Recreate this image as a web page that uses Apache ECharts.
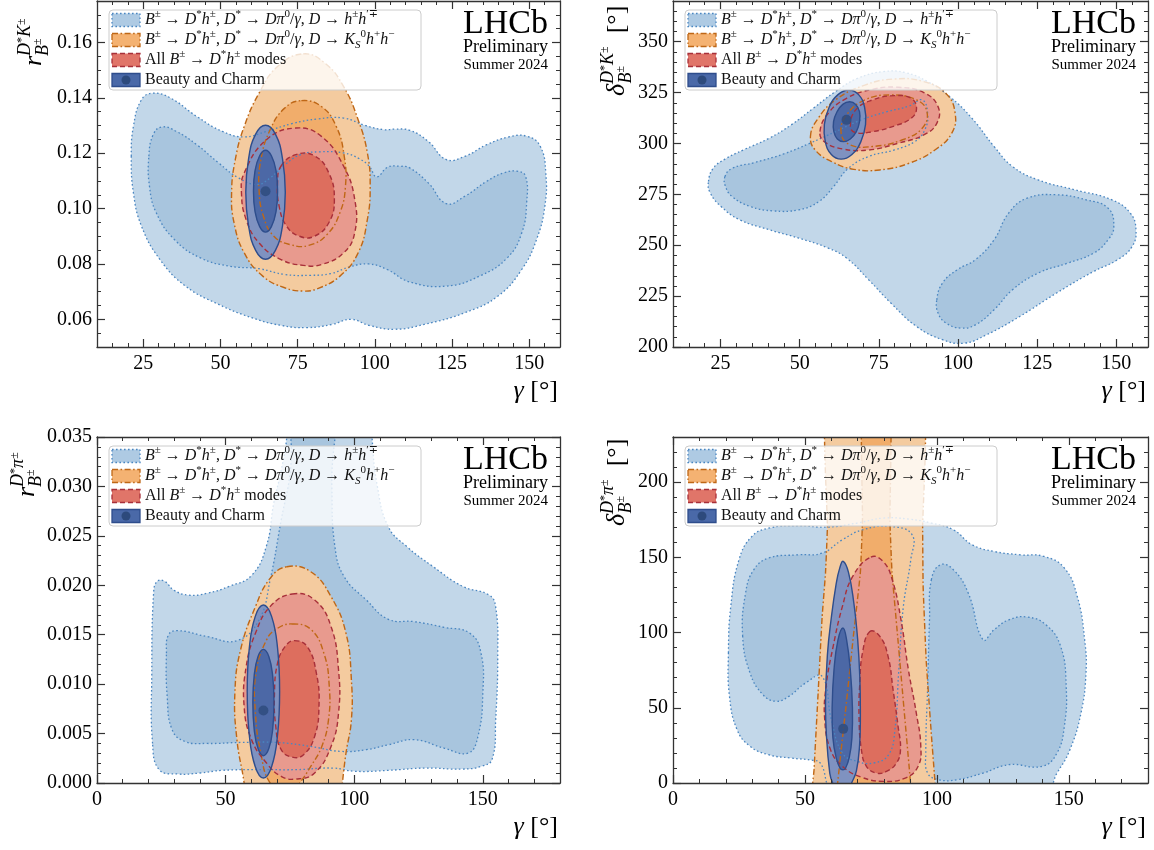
<!DOCTYPE html>
<html><head><meta charset="utf-8">
<script src="https://cdn.jsdelivr.net/npm/echarts@6/dist/echarts.min.js"></script>
<style>html,body{margin:0;padding:0;background:#fff}#c{width:1154px;height:850px}</style>
</head><body><div id="c"></div>
<script>
// ===================== DATA =====================
// tick labels
const p1_xTicks = [25, 50, 75, 100, 125, 150];
const p1_yTicks = [0.06, 0.08, 0.10, 0.12, 0.14, 0.16];
const p2_xTicks = [25, 50, 75, 100, 125, 150];
const p2_yTicks = [200, 225, 250, 275, 300, 325, 350];
const p3_xTicks = [0, 50, 100, 150];
const p3_yTicks = [0, 0.005, 0.010, 0.015, 0.020, 0.025, 0.030, 0.035];
const p4_xTicks = [0, 50, 100, 150];
const p4_yTicks = [0, 50, 100, 150, 200];

// legend entries
const legendNames = ['hh', 'ks', 'all', 'comb'];

// ---- Panel 1: gamma vs r_B^{D*K} ----
const p1_hh_outer = [[21.1,0.1189],[21.8,0.1297],[24.4,0.1393],[28.0,0.1417],[33.9,0.1399],[42.3,0.1333],[50.6,0.1279],[57.7,0.1259],[64.9,0.1279],[73.2,0.1307],[81.5,0.1324],[89.9,0.1327],[97.0,0.1300],[103.0,0.1285],[106.5,0.1287],[111.3,0.1283],[117.3,0.1243],[123.2,0.1177],[129.2,0.1189],[136.3,0.1231],[143.5,0.1259],[149.4,0.1261],[153.6,0.1225],[155.4,0.1129],[155.1,0.1009],[152.4,0.0888],[147.6,0.0780],[139.9,0.0684],[129.2,0.0624],[116.1,0.0582],[106.5,0.0564],[98.2,0.0578],[92.3,0.0600],[86.3,0.0582],[78.0,0.0570],[69.6,0.0578],[60.1,0.0606],[49.4,0.0654],[38.7,0.0720],[30.4,0.0816],[24.4,0.0937],[21.8,0.1057]];
const p1_hh_inner = [[26.8,0.1189],[28.2,0.1267],[31.0,0.1295],[35.7,0.1279],[42.3,0.1231],[49.4,0.1165],[56.0,0.1110],[61.9,0.1087],[66.0,0.1110],[71.0,0.1160],[76.0,0.1195],[82.0,0.1205],[89.9,0.1201],[95.0,0.1180],[98.2,0.1153],[100.6,0.1115],[104.2,0.1150],[108.0,0.1153],[111.3,0.1147],[117.3,0.1093],[123.2,0.1018],[129.2,0.1045],[136.3,0.1099],[142.0,0.1130],[146.0,0.1135],[148.8,0.1118],[149.2,0.1021],[147.6,0.0912],[142.9,0.0822],[133.9,0.0756],[123.2,0.0720],[111.3,0.0735],[104.0,0.0780],[98.0,0.0800],[92.0,0.0790],[85.7,0.0765],[79.2,0.0759],[70.8,0.0762],[62.5,0.0783],[53.0,0.0792],[43.5,0.0822],[35.1,0.0888],[29.2,0.0985],[27.0,0.1081]];
const p1_ks_outer = [[76.8,0.1559],[83.9,0.1525],[89.9,0.1441],[94.6,0.1321],[97.6,0.1201],[98.5,0.1081],[97.6,0.0961],[94.6,0.0840],[88.7,0.0756],[81.5,0.0711],[76.8,0.0702],[70.8,0.0714],[63.7,0.0756],[57.7,0.0840],[54.4,0.0949],[53.6,0.1057],[54.8,0.1177],[57.7,0.1297],[62.5,0.1417],[68.5,0.1513]];
const p1_ks_inner = [[76.2,0.1390],[82.7,0.1369],[87.5,0.1297],[90.1,0.1189],[90.5,0.1081],[88.7,0.0985],[84.5,0.0906],[78.6,0.0867],[72.6,0.0870],[67.3,0.0900],[63.9,0.0973],[62.5,0.1069],[63.1,0.1177],[66.1,0.1285],[70.8,0.1363]];
const p1_all_outer = [[57.7,0.1129],[64.9,0.1249],[74.4,0.1291],[82.7,0.1261],[89.9,0.1153],[93.5,0.1033],[93.5,0.0913],[89.9,0.0840],[82.7,0.0798],[76.8,0.0795],[69.6,0.0816],[62.5,0.0876],[58.3,0.0961],[56.8,0.1057]];
const p1_all_inner = [[69.6,0.1153],[74.4,0.1195],[80.4,0.1191],[85.1,0.1129],[86.9,0.1033],[85.1,0.0949],[80.4,0.0900],[75.6,0.0900],[71.4,0.0937],[69.0,0.1009],[68.5,0.1093]];
const p1_comb_outer = [[71.0,0.1059],[70.1,0.1180],[67.8,0.1269],[64.6,0.1301],[61.4,0.1269],[59.1,0.1180],[58.2,0.1059],[59.1,0.0938],[61.4,0.0849],[64.6,0.0817],[67.8,0.0849],[70.1,0.0938]];
const p1_comb_inner = [[68.5,0.1063],[68.0,0.1137],[66.5,0.1191],[64.6,0.1211],[62.7,0.1191],[61.2,0.1137],[60.7,0.1063],[61.2,0.0989],[62.7,0.0935],[64.6,0.0915],[66.5,0.0935],[68.0,0.0989]];
const p1_best = [[64.6, 0.1063]];

// ---- Panel 2: gamma vs delta_B^{D*K} ----
const p2_hh_outer = [[21.2,281.3],[22.7,287.8],[26.4,292.3],[32.2,296.8],[40.4,302.6],[47.3,309.1],[54.3,317.3],[61.3,325.5],[68.3,332.0],[76.4,335.3],[83.4,334.8],[90.4,330.4],[97.4,323.0],[104.4,312.4],[111.4,298.5],[117.2,288.7],[125.3,282.1],[137.0,277.2],[148.6,272.3],[154.4,265.8],[156.2,257.6],[155.0,249.4],[150.4,242.9],[142.8,237.1],[131.1,226.5],[119.5,215.0],[109.0,206.0],[102.0,201.9],[95.1,203.6],[86.9,210.1],[78.8,221.6],[71.8,233.0],[64.8,243.7],[59.0,248.6],[49.7,253.5],[40.4,257.6],[31.1,262.5],[25.2,269.0],[21.7,275.9]];
const p2_hh_inner_a = [[26.4,283.7],[28.7,287.8],[35.7,290.6],[45.0,294.9],[53.2,300.1],[61.3,305.8],[69.5,311.6],[77.6,315.6],[84.6,318.4],[88.7,321.4],[90.4,314.8],[89.5,306.6],[86.3,300.9],[79.9,296.8],[71.8,293.6],[65.4,287.8],[60.7,278.8],[56.1,271.5],[49.7,267.4],[41.5,266.9],[34.5,269.0],[28.7,273.9],[26.6,278.8]];
const p2_hh_inner_b = [[93.3,223.2],[95.1,231.4],[99.7,237.9],[105.5,242.9],[111.4,252.7],[116.0,265.8],[121.8,273.1],[131.1,274.8],[140.5,272.3],[147.4,268.2],[149.2,259.2],[147.4,252.7],[142.8,246.1],[134.6,241.2],[125.3,236.3],[117.2,228.1],[111.4,218.3],[105.5,210.9],[100.9,209.3],[96.2,211.8],[93.7,216.7]];
const p2_ks_outer = [[53.4,303.4],[55.5,311.6],[61.3,321.4],[70.6,328.7],[79.9,331.7],[89.2,330.4],[96.2,324.6],[99.1,314.8],[98.0,305.0],[92.7,296.8],[84.6,290.3],[75.3,287.0],[67.1,287.3],[60.1,291.1],[54.9,296.8]];
const p2_ks_inner = [[63.1,305.0],[64.8,314.0],[70.6,321.4],[78.8,323.8],[86.9,321.4],[90.2,315.6],[88.7,307.5],[82.3,301.7],[73.0,298.5],[66.0,299.3]];
const p2_all_outer = [[56.4,305.8],[59.0,314.8],[64.8,322.2],[73.0,326.6],[81.1,327.6],[89.2,325.0],[93.7,318.1],[93.3,309.9],[89.2,304.2],[81.1,300.1],[71.8,296.8],[63.6,297.3],[57.8,300.9]];
const p2_all_inner = [[66.0,308.3],[67.7,316.5],[73.0,321.4],[79.9,323.5],[85.2,322.2],[86.9,317.3],[85.2,312.4],[79.9,308.6],[73.0,305.8],[67.7,305.3]];
const p2_comb_outer = [[70.8,309.3],[70.5,317.8],[68.6,324.0],[65.5,326.3],[62.1,324.0],[59.3,317.8],[57.8,309.3],[58.1,300.8],[60.0,294.6],[63.1,292.3],[66.5,294.6],[69.3,300.8]];
const p2_comb_inner = [[68.9,310.7],[68.9,315.6],[67.7,319.2],[65.8,320.5],[63.6,319.2],[61.8,315.6],[60.7,310.7],[60.8,305.8],[61.9,302.2],[63.8,300.9],[66.0,302.2],[67.9,305.8]];
const p2_best = [[64.8, 311.6]];

// ---- Panel 3: gamma vs r_B^{D*pi} ----
const p3_hh_outer = [[21.6,0.0040],[21.3,0.0110],[22.0,0.0192],[23.4,0.0204],[26.3,0.0204],[29.9,0.0195],[35.7,0.0190],[42.9,0.0192],[51.5,0.0199],[60.1,0.0210],[65.9,0.0240],[68.7,0.0283],[71.6,0.0316],[73.8,0.0350],[75.0,0.0400],[106.0,0.0400],[106.9,0.0350],[109.0,0.0300],[113.3,0.0259],[120.5,0.0239],[130.6,0.0219],[142.1,0.0199],[152.5,0.0190],[155.0,0.0178],[155.8,0.0131],[155.0,0.0064],[153.6,0.0024],[149.3,0.00168],[142.1,0.00141],[127.7,0.00151],[113.3,0.00128],[100.4,0.00118],[91.8,0.00151],[77.4,0.00135],[63.0,0.00135],[48.6,0.00128],[40.0,0.00101],[31.4,0.00091],[24.2,0.00135]];
const p3_hh_inner = [[27.0,0.01313],[27.8,0.01498],[31.4,0.01541],[42.9,0.01481],[54.4,0.01440],[63.0,0.01649],[67.3,0.02053],[71.6,0.02659],[75.2,0.03164],[77.4,0.0400],[91.0,0.0400],[91.3,0.02995],[92.5,0.02389],[96.1,0.02087],[104.7,0.01851],[113.3,0.01656],[123.4,0.01632],[134.9,0.01575],[145.0,0.01514],[149.3,0.01313],[150.0,0.00909],[148.1,0.00471],[144.3,0.00303],[134.9,0.00353],[123.4,0.00438],[113.3,0.00387],[104.7,0.00337],[94.6,0.0032],[83.1,0.0037],[70.2,0.0041],[55.8,0.0041],[42.9,0.0040],[34.2,0.0042],[29.2,0.0054],[27.3,0.0087]];
const p3_ks_outer = [[73.8,0.02188],[83.1,0.02137],[91.0,0.01885],[96.8,0.01514],[98.9,0.01043],[98.9,0.00639],[96.8,0.00303],[95.4,0.0],[93.9,-0.0037],[58.7,-0.0037],[57.2,0.0],[54.4,0.00438],[53.6,0.00909],[55.8,0.01346],[61.6,0.01784],[67.3,0.0207]];
const p3_ks_inner = [[75.9,0.01609],[83.1,0.01555],[88.2,0.01313],[90.3,0.00976],[90.0,0.00639],[87.4,0.0037],[83.1,0.00168],[78.8,0.0],[74.5,-0.00135],[67.3,0.0],[63.7,0.00303],[61.6,0.00707],[61.8,0.01111],[65.9,0.01447],[70.2,0.01565]];
const p3_all_outer = [[75.9,0.01912],[84.6,0.01851],[91.0,0.01582],[93.9,0.01144],[93.9,0.00707],[91.0,0.0037],[84.6,0.00101],[77.4,0.0004],[71.6,0.00067],[65.9,0.00202],[60.1,0.00438],[57.2,0.00774],[58.0,0.01178],[61.6,0.01514],[67.3,0.01784]];
const p3_all_inner = [[76.7,0.0144],[81.7,0.0138],[85.3,0.0111],[86.3,0.00774],[84.6,0.00471],[80.3,0.00286],[75.9,0.00262],[71.6,0.00337],[69.5,0.00572],[69.0,0.00909],[70.2,0.01212],[73.1,0.0138]];
const p3_comb_outer = [[71.0,0.00925],[70.2,0.01363],[67.9,0.01683],[64.7,0.0180],[61.5,0.01683],[59.2,0.01363],[58.4,0.00925],[59.2,0.00488],[61.5,0.00167],[64.7,0.0005],[67.9,0.00167],[70.2,0.00488]];
const p3_comb_inner = [[68.8,0.00814],[68.3,0.01083],[66.8,0.0128],[64.7,0.01352],[62.6,0.0128],[61.1,0.01083],[60.6,0.00814],[61.1,0.00545],[62.6,0.00348],[64.7,0.00276],[66.8,0.00348],[68.3,0.00545]];
const p3_best = [[64.7, 0.00734]];

// ---- Panel 4: gamma vs delta_B^{D*pi} ----
const p4_hh_outer = [[21.0,86.4],[21.9,117.4],[25.0,148.4],[29.9,163.9],[36.2,169.4],[47.4,171.0],[58.6,170.1],[69.8,172.8],[79.6,176.1],[89.4,175.4],[97.9,172.8],[106.3,168.3],[113.3,158.4],[121.7,153.9],[131.5,151.7],[140.6,150.6],[148.3,142.9],[153.2,124.0],[156.0,95.2],[156.5,73.1],[154.6,46.5],[150.4,22.1],[145.5,6.6],[141.3,-4.4],[61.4,-4.4],[55.8,13.3],[53.0,15.1],[44.6,16.6],[36.2,18.8],[29.2,24.4],[24.3,35.4],[21.4,57.6]];
const p4_hh_inner_a = [[26.4,97.5],[27.5,126.2],[30.6,141.7],[36.2,149.5],[47.4,151.7],[56.5,152.8],[64.2,161.7],[71.9,168.3],[82.4,170.5],[90.6,165.0],[90.1,148.4],[87.3,117.4],[85.5,73.1],[84.1,35.4],[81.7,18.8],[76.1,13.3],[69.8,14.4],[64.2,19.9],[60.0,42.1],[56.5,70.9],[50.2,66.4],[43.9,57.6],[39.0,54.3],[34.1,58.7],[29.2,73.1]];
const p4_hh_inner_b = [[97.9,135.1],[101.4,145.1],[106.3,141.7],[111.9,126.2],[117.5,95.2],[121.7,101.9],[127.3,108.5],[134.3,110.3],[141.3,105.2],[146.9,90.8],[149.0,64.2],[148.3,37.7],[145.5,19.9],[139.9,11.1],[127.3,12.2],[117.5,6.6],[107.7,2.2],[100.7,2.2],[96.5,6.6],[95.8,19.9],[96.5,64.2],[97.2,108.5]];
const p4_ks_outer = [[58.5,260],[58.5,170],[57.8,140],[56.5,110],[55.0,60],[53.5,10],[53.0,-20],[99.8,-20],[99.3,0],[98.0,30],[96.0,80],[94.8,130],[94.6,170],[94.6,260]];
const p4_ks_inner = [[71.8,260],[71.8,175],[71.0,140],[68.5,100],[65.5,50],[63.0,10],[62.2,-20],[90.5,-20],[90.0,0],[87.5,50],[85.0,100],[83.0,140],[82.2,175],[82.2,260]];
const p4_all_outer = [[75.0,150.2],[79.6,147.3],[83.1,135.1],[86.4,108.5],[89.2,75.3],[92.2,46.5],[93.9,24.4],[92.9,11.1],[88.0,3.3],[79.6,1.1],[71.2,4.0],[64.2,11.1],[59.7,22.1],[57.5,42.1],[58.0,64.2],[60.7,90.8],[64.2,117.4],[68.1,137.3]];
const p4_all_inner = [[74.6,100.7],[78.4,97.5],[81.5,84.2],[83.4,62.0],[85.3,37.6],[86.2,22.1],[84.7,13.3],[80.9,7.7],[77.1,6.6],[73.3,11.1],[71.4,22.1],[70.5,44.3],[70.8,66.4],[71.8,86.4]];
const p4_comb_outer = [[64.5,147.3],[66.5,140],[68.5,120],[70.0,95],[70.8,70],[71.0,45],[70.7,25],[69.5,8],[67.7,0],[66.0,-8],[63.0,-8],[60.5,0],[59.4,6.6],[58.1,33],[57.8,55],[58.5,85],[60.0,110],[61.8,132],[63.2,143]];
const p4_comb_inner = [[64.4,103],[65.8,95],[67.2,75],[68.0,50],[67.8,30],[66.8,17],[65.3,9.5],[64.4,8.8],[63.4,9.5],[61.8,17],[60.6,30],[60.3,50],[61.0,75],[62.5,95]];
const p4_best = [[64.5, 36]];

// ===================== STYLE / LAYOUT =====================
const FONT = '"Liberation Serif", "DejaVu Serif", serif';
const STY = {
  hh:   {o:'#c2d7e9', i:'#a8c5de', line:'#4a86c1', dash:[1.6,2.4], w:1.3, patch:'#aecae3'},
  ks:   {o:'#f4cb9f', i:'#f1ad6b', line:'#bf6716', dash:[6,2.5,1.6,2.5], w:1.4, patch:'#f4b272'},
  all:  {o:'#e89a8e', i:'#dd6e5e', line:'#a8303a', dash:[5,3], w:1.4, patch:'#e07569'},
  comb: {o:'#7f92c0', i:'#4c68a6', line:'#2e4d8c', dash:null, w:1.4, patch:'#4a69a8'}
};
const G = [
  {left:97,  top:1,   right:560,  bottom:347},
  {left:673, top:1,   right:1148, bottom:347},
  {left:97,  top:437, right:560,  bottom:783},
  {left:673, top:437, right:1148, bottom:783}
];
const AX = [
  {xMin:10, xMax:160, xMaj:p1_xTicks, xStep:5,  yMin:0.05, yMax:0.175, yMaj:p1_yTicks, yStep:0.005, yDec:2},
  {xMin:10, xMax:160, xMaj:p2_xTicks, xStep:5,  yMin:200,  yMax:370,   yMaj:p2_yTicks, yStep:5,     yDec:0},
  {xMin:0,  xMax:180, xMaj:p3_xTicks, xStep:10, yMin:0,    yMax:0.035, yMaj:p3_yTicks, yStep:0.001, yDec:3},
  {xMin:0,  xMax:180, xMaj:p4_xTicks, xStep:10, yMin:0,    yMax:230,   yMaj:p4_yTicks, yStep:10,    yDec:0}
];
// layers per panel: [style key, level, points, smooth]
const LAYERS = [
  [['hh','o',p1_hh_outer],['hh','i',p1_hh_inner],['ks','o',p1_ks_outer],['ks','i',p1_ks_inner],['all','o',p1_all_outer],['all','i',p1_all_inner],['comb','o',p1_comb_outer],['comb','i',p1_comb_inner]],
  [['hh','o',p2_hh_outer],['hh','i',p2_hh_inner_a],['hh','i',p2_hh_inner_b],['ks','o',p2_ks_outer],['ks','i',p2_ks_inner],['all','o',p2_all_outer],['all','i',p2_all_inner],['comb','o',p2_comb_outer],['comb','i',p2_comb_inner]],
  [['hh','o',p3_hh_outer],['hh','i',p3_hh_inner],['ks','o',p3_ks_outer],['ks','i',p3_ks_inner],['all','o',p3_all_outer],['all','i',p3_all_inner],['comb','o',p3_comb_outer],['comb','i',p3_comb_inner]],
  [['hh','o',p4_hh_outer],['hh','i',p4_hh_inner_a],['hh','i',p4_hh_inner_b],['ks','o',p4_ks_outer,0.12],['ks','i',p4_ks_inner,0.12],['all','o',p4_all_outer],['all','i',p4_all_inner],['comb','o',p4_comb_outer],['comb','i',p4_comb_inner]]
];
const BEST = [p1_best, p2_best, p3_best, p4_best];

// ===================== BUILD =====================
const grids = [], xAxes = [], yAxes = [], series = [], gfx = [];
const AXC = '#333';

function fmt(dec){ return v => (+v).toFixed(dec); }

G.forEach((g, gi) => {
  grids.push({left:g.left, top:g.top, width:g.right-g.left, height:g.bottom-g.top, containLabel:false});
  const a = AX[gi];
  const lab = {fontFamily:FONT, fontSize:20, color:'#000'};
  ['bottom','top'].forEach(pos => {
    xAxes.push({type:'value', gridIndex:gi, position:pos, min:a.xMin, max:a.xMax, z:10,
      axisLine:{show:true, onZero:false, lineStyle:{color:AXC, width:1.3}},
      axisTick:{show:true, inside:true, length:8, customValues:a.xMaj, lineStyle:{color:AXC, width:1.2}},
      axisLabel:Object.assign({show:pos==='bottom', customValues:a.xMaj, margin:7, formatter:fmt(0)}, lab),
      splitLine:{show:false}});
    xAxes.push({type:'value', gridIndex:gi, position:pos, min:a.xMin, max:a.xMax, interval:a.xStep, z:10,
      axisLine:{show:false, onZero:false}, axisTick:{show:true, inside:true, length:4, lineStyle:{color:AXC, width:1}},
      axisLabel:{show:false}, splitLine:{show:false}});
  });
  ['left','right'].forEach(pos => {
    yAxes.push({type:'value', gridIndex:gi, position:pos, min:a.yMin, max:a.yMax, z:10,
      axisLine:{show:true, onZero:false, lineStyle:{color:AXC, width:1.3}},
      axisTick:{show:true, inside:true, length:8, customValues:a.yMaj, lineStyle:{color:AXC, width:1.2}},
      axisLabel:Object.assign({show:pos==='left', customValues:a.yMaj, margin:5, formatter:fmt(a.yDec)}, lab),
      splitLine:{show:false}});
    yAxes.push({type:'value', gridIndex:gi, position:pos, min:a.yMin, max:a.yMax, interval:a.yStep, z:10,
      axisLine:{show:false, onZero:false}, axisTick:{show:true, inside:true, length:4, lineStyle:{color:AXC, width:1}},
      axisLabel:{show:false}, splitLine:{show:false}});
  });

  // contour polygons: fills first, outlines on top
  const layers = LAYERS[gi];
  const mk = (pts, style, z2, smooth) => ({
    type:'custom', coordinateSystem:'cartesian2d', xAxisIndex:gi*4, yAxisIndex:gi*4,
    clip:true, silent:true, animation:false, z:2, data:pts,
    renderItem:(params, api) => {
      if (params.dataIndex !== 0) return null;
      return {type:'polygon', z2:z2, shape:{points:pts.map(p => api.coord(p)), smooth:smooth}, style:style};
    }
  });
  layers.forEach((L, k) => {
    const s = STY[L[0]];
    series.push(mk(L[2], {fill: L[1]==='o' ? s.o : s.i, stroke:null}, k, L[3] != null ? L[3] : 0.45));
  });
  layers.forEach((L, k) => {
    const s = STY[L[0]];
    series.push(mk(L[2], {fill:null, stroke:s.line, lineWidth:s.w, lineDash:s.dash}, 30 + k, L[3] != null ? L[3] : 0.45));
  });
  series.push({type:'scatter', xAxisIndex:gi*4, yAxisIndex:gi*4, data:BEST[gi], symbol:'circle', symbolSize:10,
    itemStyle:{color:'#2d4a7c'}, z:5, silent:true, animation:false});

  // ---------- legend ----------
  const lx = g.left + 12, ly = g.top + 9;
  gfx.push({type:'rect', z:20, shape:{x:lx, y:ly, width:312, height:80, r:4},
    style:{fill:'rgba(255,255,255,0.8)', stroke:'#cccccc', lineWidth:1}});
  const RL = {
    i:{fontFamily:FONT, fontStyle:'italic', fontSize:16, lineHeight:22},
    r:{fontFamily:FONT, fontSize:16, lineHeight:22},
    p:{fontFamily:FONT, fontSize:11, lineHeight:12, verticalAlign:'top'},
    b:{fontFamily:FONT, fontStyle:'italic', fontSize:11, lineHeight:12, verticalAlign:'bottom'}
  };
  const texts = [
    '{i|B}{p|±}{r| → }{i|D}{p|*}{i|h}{p|±}{r|, }{i|D}{p|*}{r| → }{i|Dπ}{p|0}{r|/}{i|γ}{r|, }{i|D}{r| → }{i|h}{p|±}{i|h}{p|′∓}',
    '{i|B}{p|±}{r| → }{i|D}{p|*}{i|h}{p|±}{r|, }{i|D}{p|*}{r| → }{i|Dπ}{p|0}{r|/}{i|γ}{r|, }{i|D}{r| → }{i|K}{b|S}{p|0}{i|h}{p|+}{i|h}{p|−}',
    '{r|All }{i|B}{p|±}{r| → }{i|D}{p|*}{i|h}{p|±}{r| modes}',
    '{r|Beauty and Charm}'
  ];
  legendNames.forEach((key, r) => {
    const s = STY[key];
    const cy = ly + 10 + 20 * r;
    gfx.push({type:'rect', z:21, shape:{x:lx+3, y:cy-6.5, width:28, height:13},
      style:{fill:s.patch, stroke:s.line, lineWidth:1.3, lineDash:s.dash}});
    if (key === 'comb') gfx.push({type:'circle', z:22, shape:{cx:lx+17, cy:cy, r:4.5}, style:{fill:'#2d4a7c'}});
    gfx.push({type:'text', z:21, x:lx+36, y:cy, style:{text:texts[r], rich:RL, fill:'#111', align:'left', verticalAlign:'middle'}});
  });

  // ---------- LHCb label ----------
  const rx = g.right - 12;
  gfx.push({type:'text', z:21, x:rx, y:g.top+23.5, style:{text:'LHCb', fontFamily:'"Liberation Serif", serif', fontSize:34, fill:'#000', align:'right', verticalAlign:'middle'}});
  gfx.push({type:'text', z:21, x:rx, y:g.top+46, style:{text:'Preliminary', fontFamily:'"Liberation Serif", serif', fontSize:18, fill:'#000', align:'right', verticalAlign:'middle'}});
  gfx.push({type:'text', z:21, x:rx, y:g.top+64.5, style:{text:'Summer 2024', fontFamily:'"Liberation Serif", serif', fontSize:15, fill:'#000', align:'right', verticalAlign:'middle'}});

  // ---------- x axis title ----------
  gfx.push({type:'text', z:21, x:g.right-2, y:g.bottom+44, style:{text:'{i|γ}{u| [°]}', align:'right', verticalAlign:'middle', fill:'#000',
    rich:{i:{fontFamily:FONT, fontStyle:'italic', fontSize:26}, u:{fontFamily:FONT, fontSize:26}}}});
});

// ---------- y axis titles (rotated) ----------
const RY = {
  m:{fontFamily:FONT, fontStyle:'italic', fontSize:26, lineHeight:36},
  u:{fontFamily:FONT, fontSize:26, lineHeight:36},
  p:{fontFamily:FONT, fontStyle:'italic', fontSize:18, lineHeight:18, verticalAlign:'top'},
  q:{fontFamily:FONT, fontSize:12, lineHeight:12, verticalAlign:'top'},
  s:{fontFamily:FONT, fontStyle:'italic', fontSize:18, lineHeight:22},
  sq:{fontFamily:FONT, fontSize:12, lineHeight:12, verticalAlign:'top'}
};
function yTitle(x, y, main, mainW, sup, tail) {
  return {type:'group', x:x, y:y, rotation:Math.PI/2, z:21, children:[
    {type:'text', x:0, y:0, z:21, style:{text:'{m|'+main+'}'+sup+(tail?'{u|'+tail+'}':''), rich:RY, fill:'#000', align:'left', verticalAlign:'middle'}},
    {type:'text', x:mainW, y:9, z:21, style:{text:'{s|B}{sq|±}', rich:RY, fill:'#000', align:'left', verticalAlign:'middle'}}
  ]};
}
gfx.push(yTitle(34, 66, 'r', 10, '{p|D}{q|*}{p|K}{q|±}', ''));
gfx.push(yTitle(617, 96, 'δ', 12.5, '{p|D}{q|*}{p|K}{q|±}', '  [°]'));
gfx.push(yTitle(27, 497, 'r', 10, '{p|D}{q|*}{p|π}{q|±}', ''));
gfx.push(yTitle(617, 526, 'δ', 12.5, '{p|D}{q|*}{p|π}{q|±}', '  [°]'));

const chart = echarts.init(document.getElementById('c'), null, {renderer:'canvas'});
chart.setOption({
  backgroundColor:'#ffffff', animation:false,
  grid:grids, xAxis:xAxes, yAxis:yAxes, series:series,
  graphic:{elements:gfx}
});
</script>
</body></html>
